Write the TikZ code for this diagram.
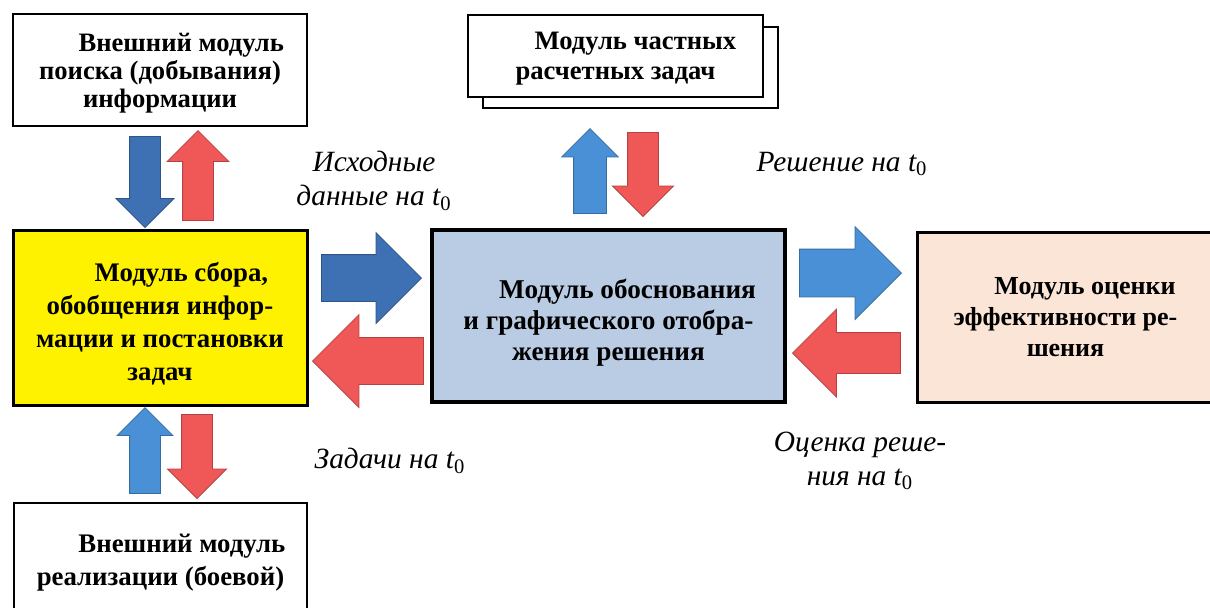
\documentclass[tikz,border=0pt]{standalone}
\usepackage{fontspec}
\setmainfont{Liberation Serif}
\usetikzlibrary{shapes.arrows}
\definecolor{sinij}{RGB}{62,112,180}
\definecolor{golub}{RGB}{74,144,214}
\definecolor{krasn}{RGB}{240,88,88}
\definecolor{obosnfon}{RGB}{186,204,228}
\definecolor{ocenkafon}{RGB}{250,229,215}
\tikzset{
  modul/.style={draw=black, line width=1pt, fill=white, align=center, inner sep=0pt, text depth=0pt,
    font=\bfseries\fontsize{13.3}{15.5}\selectfont},
  strelka/.style={single arrow, anchor=tip, inner xsep=0pt, draw=#1!75!black, fill=#1, line width=0.4pt},
  podpis/.style={font=\itshape\fontsize{14.7}{17}\selectfont, align=center}
}
\begin{document}
\begin{tikzpicture}[x=0.5pt, y=-0.5pt]
                \clip (0,0) rectangle (1210,607);
                \node[modul, minimum width=147pt, minimum height=56pt, font=\bfseries\fontsize{13.3}{14}\selectfont] (poisk) at (160,70) {\hspace*{1.6em}Внешний модуль\\поиска (добывания)\\информации};
                \node[modul, fill=yellow, line width=1.5pt, minimum width=147pt, minimum height=87.5pt, font=\bfseries\fontsize{13.4}{16.5}\selectfont] (sbor) at (160,317.5) {\rule{0pt}{13pt}\hspace*{1.6em}Модуль сбора,\\обобщения инфор-\\мации и постановки\\задач};
                \node[modul, minimum width=146.5pt, minimum height=57pt, font=\bfseries\fontsize{13.4}{16.5}\selectfont] (realiz) at (160.5,560) {\hspace*{1.6em}Внешний модуль\\реализации (боевой)};
                \node[modul, fill=obosnfon, line width=1.75pt, minimum width=176.5pt, minimum height=86pt, font=\bfseries\fontsize{13.6}{15.5}\selectfont] (obosn) at (608.5,316) {\rule{0pt}{13pt}\hspace*{1.4em}Модуль обоснования\\и графического отобра-\\жения решения};
                \node[modul, fill=ocenkafon, line width=1.5pt, minimum width=148.5pt, minimum height=85pt, font=\bfseries\fontsize{13}{15.5}\selectfont] (ocenka) at (1065.5,317) {\hspace*{1.5em}Модуль оценки\\эффективности ре-\\шения};
                \node[modul, line width=0.8pt, minimum width=147.5pt, minimum height=40.5pt] (chastten) at (630.5,67.5) {};
                \node[modul, minimum width=147.5pt, minimum height=41pt, font=\bfseries\fontsize{13.3}{15}\selectfont] (chast) at (615.5,56) {\hspace*{1.5em}Модуль частных\\расчетных задач};
                \node[strelka=sinij, rotate=-90, minimum height=45.5pt, inner ysep=7.5pt, single arrow head extend=6.75pt] (s1) at (145,228) {};
                \node[strelka=krasn, rotate=90, minimum height=45pt, inner ysep=7.5pt, single arrow head extend=7.75pt] (s2) at (198,130) {};
                \node[strelka=golub, rotate=90, minimum height=43pt, inner ysep=7.5pt, single arrow head extend=6.25pt] (s3) at (145,407) {};
                \node[strelka=krasn, rotate=-90, minimum height=42pt, inner ysep=7.5pt, single arrow head extend=7pt] (s4) at (197,499) {};
                \node[strelka=sinij, minimum height=50pt, inner ysep=11.5pt, single arrow head extend=11pt] (s5) at (422,278) {};
                \node[strelka=krasn, rotate=180, minimum height=55.5pt, inner ysep=11.5pt, single arrow head extend=11.5pt] (s6) at (312,361) {};
                \node[strelka=golub, minimum height=51pt, inner ysep=11.75pt, single arrow head extend=11.25pt] (s7) at (902,273) {};
                \node[strelka=krasn, rotate=180, minimum height=54pt, inner ysep=10pt, single arrow head extend=11.75pt] (s8) at (792,353) {};
                \node[strelka=golub, rotate=90, minimum height=42.5pt, inner ysep=8pt, single arrow head extend=6pt] (s9) at (590,128) {};
                \node[strelka=krasn, rotate=-90, minimum height=42pt, inner ysep=7.5pt, single arrow head extend=7.5pt] (s10) at (643,217) {};
                \node[podpis] (ishod) at (374,181) {Исходные\\данные на t\textsubscript{\upshape 0}};
                \node[podpis] (reshen) at (842,164) {Решение на t\textsubscript{\upshape 0}};
                \node[podpis] (zadachi) at (390,461) {Задачи на t\textsubscript{\upshape 0}};
                \node[podpis] (ocenreshen) at (860,461) {Оценка реше-\\ния на t\textsubscript{\upshape 0}};
            \end{tikzpicture}
\end{document}
